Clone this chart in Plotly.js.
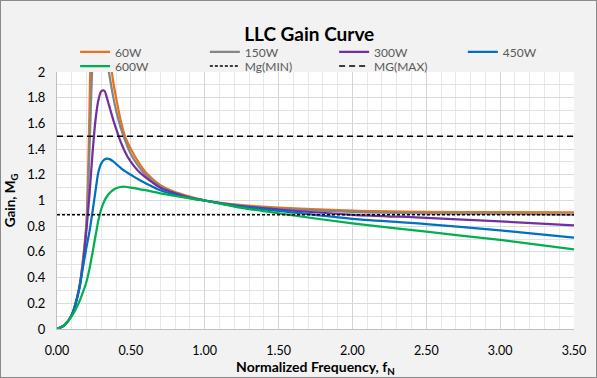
<!DOCTYPE html>
<html>
<head>
<meta charset="utf-8">
<script src="https://cdn.plot.ly/plotly-3.0.1.min.js"></script>
<style>
html,body{margin:0;padding:0;background:#f2f2f2;}
#wrap{width:595px;height:376px;border:1px solid #8a8a8a;}
#chart{width:595px;height:376px;}
</style>
</head>
<body>
<div id="wrap"><div id="chart"></div></div>
<script>
// Normalized frequency samples
var fn = [0, 0.05, 0.1, 0.15, 0.18, 0.2, 0.22, 0.24, 0.26, 0.28, 0.3, 0.32, 0.34, 0.36, 0.38, 0.4, 0.43, 0.46, 0.5, 0.55, 0.6, 0.7, 0.8, 0.9, 1.0, 1.2, 1.5, 2.0, 2.5, 3.0, 3.5];

var gain60W  = [0, 0.03, 0.11, 0.32, 0.58, 0.84, 1.70, 3.00, 4.00, 3.60, 3.00, 2.60, 2.30, 2.10, 1.93, 1.80, 1.63, 1.50, 1.40, 1.30, 1.22, 1.12, 1.065, 1.03, 1.0, 0.970, 0.944, 0.921, 0.912, 0.909, 0.908];
var gain150W = [0, 0.03, 0.11, 0.32, 0.57, 0.82, 1.40, 2.10, 2.55, 2.60, 2.45, 2.25, 2.08, 1.94, 1.81, 1.70, 1.57, 1.47, 1.36, 1.27, 1.20, 1.11, 1.060, 1.025, 1.0, 0.966, 0.937, 0.911, 0.900, 0.897, 0.891];
var gain300W = [0, 0.03, 0.11, 0.31, 0.55, 0.78, 1.05, 1.36, 1.62, 1.78, 1.85, 1.855, 1.79, 1.71, 1.63, 1.56, 1.46, 1.38, 1.30, 1.23, 1.18, 1.10, 1.055, 1.022, 1.0, 0.962, 0.930, 0.889, 0.865, 0.837, 0.807];
var gain450W = [0, 0.03, 0.11, 0.31, 0.51, 0.64, 0.76, 0.91, 1.07, 1.22, 1.29, 1.318, 1.326, 1.32, 1.305, 1.285, 1.255, 1.228, 1.20, 1.165, 1.135, 1.08, 1.045, 1.018, 1.0, 0.958, 0.920, 0.857, 0.817, 0.768, 0.711];
var gain600W = [0, 0.03, 0.10, 0.21, 0.30, 0.37, 0.47, 0.59, 0.72, 0.845, 0.935, 0.995, 1.035, 1.062, 1.082, 1.095, 1.105, 1.107, 1.10, 1.09, 1.08, 1.055, 1.035, 1.017, 1.0, 0.953, 0.900, 0.822, 0.757, 0.693, 0.620];

var limX = [0, 3.5];
var mgMin = [0.89, 0.89];
var mgMax = [1.5, 1.5];

var FONT = 'Lato, "Liberation Sans", sans-serif';

function curve(y, name, color, lg) {
  return {x: fn, y: y, name: name, mode: 'lines',
          line: {color: color, width: 2.25, shape: 'spline', smoothing: 0.8}, legend: lg};
}

var traces = [
  curve(gain60W, '60W', '#E8731C', 'legend'),
  curve(gain150W, '150W', '#858585', 'legend2'),
  curve(gain300W, '300W', '#7030A0', 'legend3'),
  curve(gain450W, '450W', '#0070C0', 'legend4'),
  curve(gain600W, '600W', '#00B050', 'legend5'),
  {x: limX, y: mgMin, name: 'Mg(MIN)', mode: 'lines', line: {color: '#000000', width: 1.5, dash: '3px,2px'}, legend: 'legend6'},
  {x: limX, y: mgMax, name: 'MG(MAX)', mode: 'lines', line: {color: '#000000', width: 1.5, dash: '6px,4px'}, legend: 'legend7'}
];

function lg(x, y) {
  return {
    orientation: 'h', xref: 'paper', yref: 'paper', xanchor: 'left', yanchor: 'middle',
    x: x, y: y, bgcolor: 'rgba(0,0,0,0)', borderwidth: 0,
    font: {family: FONT, size: 12, color: '#595959'}, itemclick: false
  };
}

var row1 = 1.078, row2 = 1.023;
var col1 = 0.035, col2 = 0.286, col3 = 0.536, col4 = 0.785;

var layout = {
  width: 595, height: 376,
  paper_bgcolor: '#f2f2f2', plot_bgcolor: '#ffffff',
  margin: {l: 56, r: 22, t: 71, b: 48},
  showlegend: true,
  title: {text: '<b>LLC Gain Curve</b>', font: {family: FONT, size: 19, color: '#000000'},
          xref: 'container', x: 0.518, xanchor: 'center', yref: 'container', y: 0.91, yanchor: 'middle'},
  legend: lg(col1, row1),
  legend2: lg(col2, row1),
  legend3: lg(col3, row1),
  legend4: lg(col4, row1),
  legend5: lg(col1, row2),
  legend6: lg(col2, row2),
  legend7: lg(col3, row2),
  xaxis: {
    range: [0, 3.5], dtick: 0.5, tick0: 0, tickformat: '.2f',
    showgrid: true, gridcolor: '#d4d4d4', gridwidth: 1,
    minor: {dtick: 0.1, showgrid: true, gridcolor: '#e8e8e8', gridwidth: 1},
    showline: true, linecolor: '#bfbfbf', linewidth: 1, zeroline: false,
    ticks: '', ticklabelstandoff: 10, tickfont: {family: FONT, size: 12.5, color: '#000000'},
    title: {text: '<b>Normalized Frequency, f<sub>N</sub></b>', font: {family: FONT, size: 14, color: '#000000'}, standoff: 6},
    fixedrange: true
  },
  yaxis: {
    range: [0, 2], dtick: 0.2, tick0: 0,
    showgrid: true, gridcolor: '#dadada', gridwidth: 1,
    minor: {dtick: 0.1, showgrid: true, gridcolor: '#e2e2e2', gridwidth: 1},
    showline: true, linecolor: '#bfbfbf', linewidth: 1, zeroline: false,
    ticks: '', ticklabelstandoff: 8, tickfont: {family: FONT, size: 13, color: '#000000'},
    title: {text: '<b>Gain, M<sub>G</sub></b>', font: {family: FONT, size: 13.5, color: '#000000'}, standoff: 8},
    fixedrange: true
  }
};

Plotly.newPlot('chart', traces, layout, {displayModeBar: false, staticPlot: true});
</script>
</body>
</html>
